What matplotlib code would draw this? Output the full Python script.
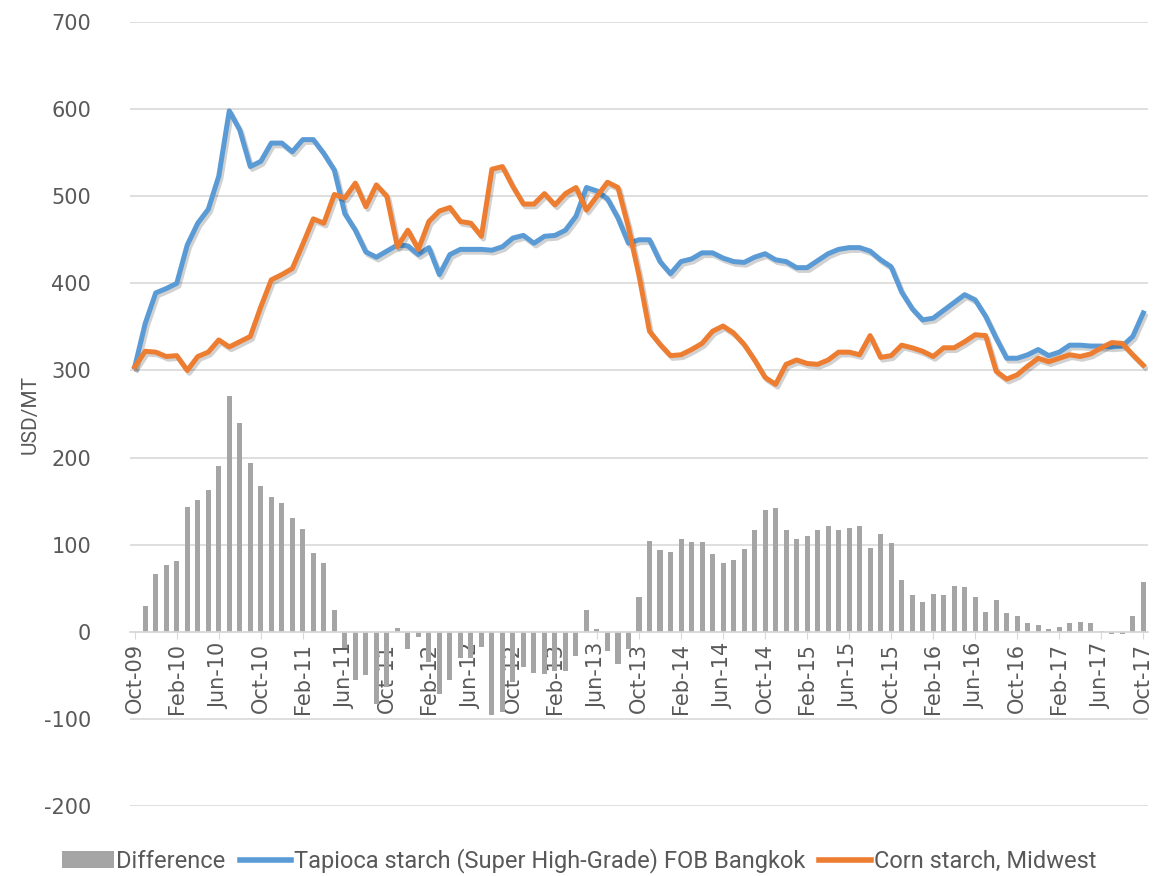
import matplotlib
matplotlib.use('Agg')
import matplotlib.pyplot as plt
import matplotlib.patheffects as pe
from matplotlib.patches import Patch
from matplotlib.lines import Line2D
import numpy as np

plt.rcParams['axes.unicode_minus'] = False

# monthly, Oct-09 .. Oct-17
tapioca = [304, 354, 389, 394, 400, 444, 469, 485, 523, 598,
           576, 534, 540, 561, 561, 551, 565, 565, 549, 530,
           480, 461, 436, 430, 437, 444, 443, 433, 441, 410,
           433, 439, 439, 439, 438, 442, 452, 455, 446, 454,
           455, 461, 477, 510, 506, 497, 475, 446, 450, 450,
           425, 411, 425, 428, 435, 435, 429, 425, 424, 430,
           434, 427, 425, 418, 418, 426, 434, 439, 441, 441,
           437, 427, 419, 390, 371, 358, 360, 369, 378, 387,
           381, 362, 337, 314, 314, 318, 324, 317, 321, 329,
           329, 328, 328, 327, 328, 339, 366]

corn = [304, 322, 321, 316, 317, 300, 316, 321, 335, 327,
        333, 339, 373, 404, 410, 417, 445, 474, 469, 502,
        498, 515, 488, 513, 500, 442, 461, 439, 471, 483,
        487, 471, 469, 454, 531, 534, 511, 491, 491, 503,
        490, 503, 510, 484, 500, 516, 510, 464, 409, 345,
        330, 317, 318, 324, 331, 345, 351, 343, 330, 312,
        292, 284, 307, 312, 308, 307, 312, 321, 321, 318,
        340, 315, 317, 329, 326, 322, 316, 326, 326, 333,
        341, 340, 299, 290, 295, 305, 314, 310, 314, 318,
        316, 319, 326, 332, 331, 318, 306]

difference = [0, 30, 66, 77, 81, 143, 151, 163, 190, 271,
              240, 194, 167, 155, 148, 131, 118, 90, 79, 25,
              -19, -55, -50, -83, -63, 4, -20, -6, -35, -72,
              -55, -30, -30, -17, -95, -92, -58, -40, -47, -48,
              -45, -45, -28, 25, 3, -22, -37, -20, 40, 104,
              94, 92, 106, 103, 103, 89, 79, 82, 95, 117,
              140, 142, 117, 106, 110, 117, 121, 117, 119, 122,
              96, 112, 102, 59, 42, 34, 43, 42, 52, 51,
              40, 23, 36, 21, 18, 10, 8, 3, 5, 10,
              11, 10, 1, -3, -3, 18, 57]

tick_labels = ['Oct-09', 'Feb-10', 'Jun-10', 'Oct-10', 'Feb-11', 'Jun-11', 'Oct-11',
               'Feb-12', 'Jun-12', 'Oct-12', 'Feb-13', 'Jun-13', 'Oct-13', 'Feb-14',
               'Jun-14', 'Oct-14', 'Feb-15', 'Jun-15', 'Oct-15', 'Feb-16', 'Jun-16',
               'Oct-16', 'Feb-17', 'Jun-17', 'Oct-17']

BLUE = '#5b9bd5'
ORANGE = '#ed7d31'
GRAY_BAR = '#a5a5a5'
TXT = '#595959'
GRID = '#d9d9d9'

x = np.arange(len(tapioca))

fig = plt.figure(figsize=(11.58, 8.76), dpi=100)
ax = fig.add_axes([130 / 1158, 1 - 806 / 876, 1018 / 1158, 784 / 876])

shadow = [pe.SimpleLineShadow(offset=(1.5, -2), shadow_color='black', alpha=0.18),
          pe.Normal()]

ax.bar(x, difference, width=0.48, color=GRAY_BAR, zorder=2)
ax.plot(x, tapioca, color=BLUE, lw=3.6, zorder=4, solid_joinstyle='round',
        path_effects=shadow)
ax.plot(x, corn, color=ORANGE, lw=3.6, zorder=5, solid_joinstyle='round',
        path_effects=shadow)

ax.set_ylim(-200, 700)
ax.set_xlim(-0.45, 96.45)
ax.set_yticks(range(-200, 701, 100))
ax.yaxis.grid(True, color=GRID, lw=1.2, zorder=0)
ax.set_axisbelow(True)

for s in ['top', 'right', 'left']:
    ax.spines[s].set_visible(False)
ax.spines['bottom'].set_position(('data', 0))
ax.spines['bottom'].set_color(GRID)
ax.spines['bottom'].set_linewidth(1.2)

ax.set_xticks(x[::4])
ax.set_xticklabels(tick_labels, rotation=90, fontsize=15, color=TXT,
                   family='DejaVu Sans')
ax.tick_params(axis='x', direction='out', length=5, color=GRID, pad=3)
ax.tick_params(axis='y', length=0, pad=28, labelsize=15, labelcolor=TXT)
for t in ax.get_yticklabels():
    t.set_family('DejaVu Sans')

fig.text(30 / 1158, 1 - 414 / 876, 'USD/MT', rotation=90, ha='center', va='center',
         fontsize=15, color=TXT, family=['Liberation Sans Narrow', 'Roboto'])

handles = [Patch(facecolor=GRAY_BAR, edgecolor='none'),
           Line2D([0], [0], color=BLUE, lw=4),
           Line2D([0], [0], color=ORANGE, lw=4)]
labels = ['Difference', 'Tapioca starch (Super High-Grade) FOB Bangkok',
          'Corn starch, Midwest']
leg = fig.legend(handles, labels, loc='center', bbox_to_anchor=(0.5, 1 - 861 / 876),
                 ncol=3, frameon=False, handlelength=2.2, handletextpad=0.1,
                 columnspacing=0.6,
                 prop={'family': ['Liberation Sans Narrow', 'Roboto'], 'size': 17})
for t in leg.get_texts():
    t.set_color(TXT)

fig.savefig('out.png', dpi=100, facecolor='white')
